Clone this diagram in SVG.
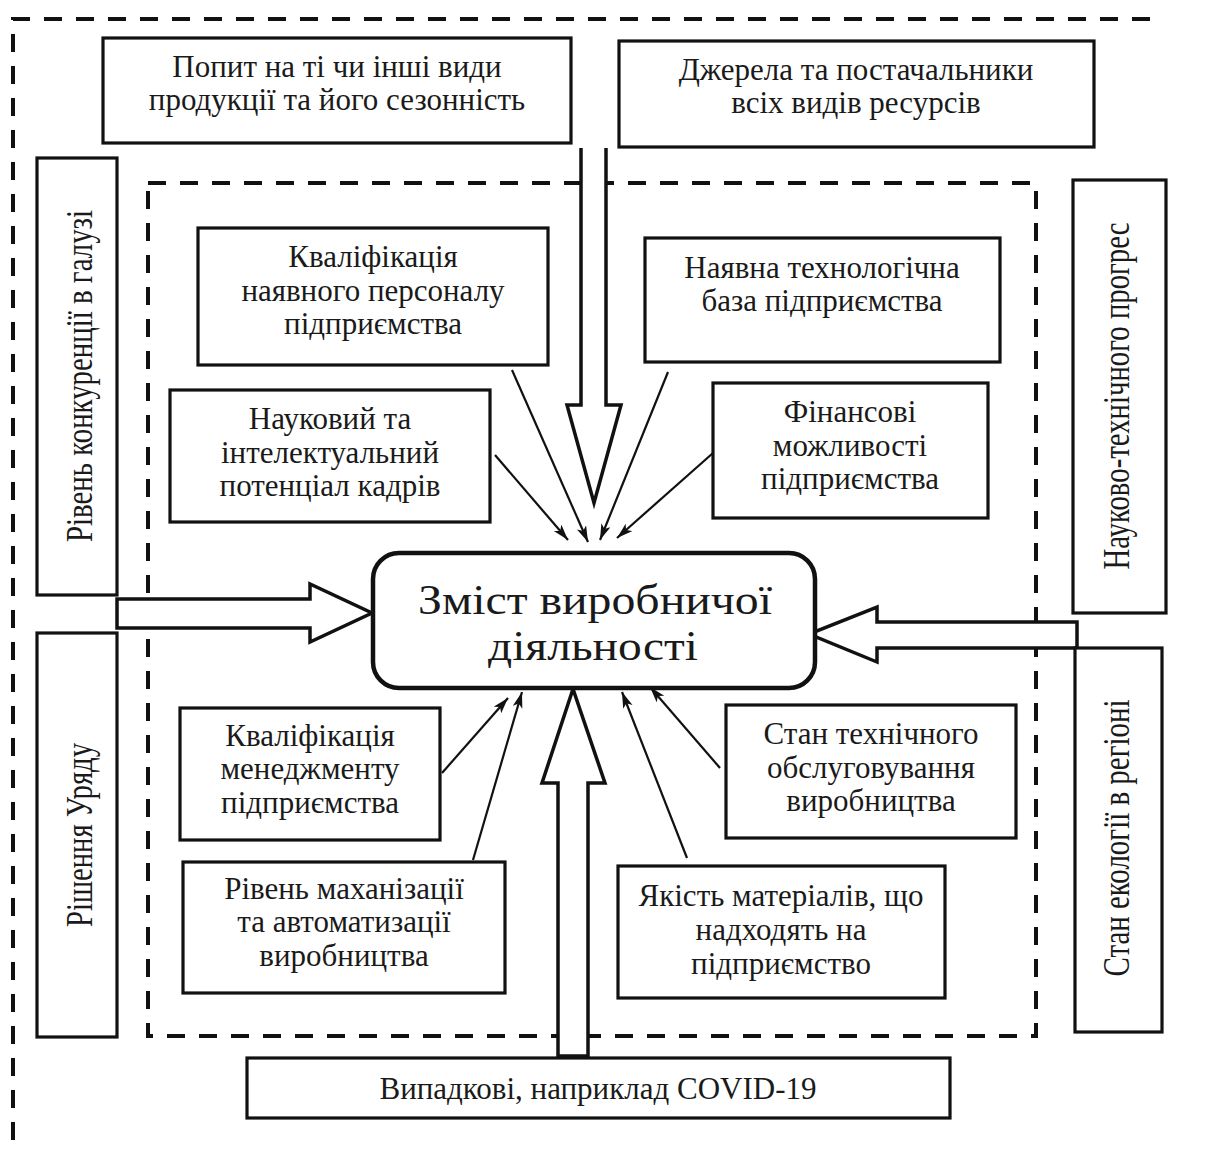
<svg xmlns="http://www.w3.org/2000/svg" width="1205" height="1154" viewBox="0 0 1205 1154">
<defs>
<style>
.box{fill:#fff;stroke:#111;stroke-width:3.2}
.dash{fill:none;stroke:#111;stroke-width:4;stroke-dasharray:18 14}
.big{fill:#fff;stroke:#111;stroke-width:3.5;stroke-linejoin:miter}
.thin{fill:none;stroke:#111;stroke-width:2.2}
text{font-family:"Liberation Serif","Times New Roman",serif;fill:#1a1a1a;text-anchor:middle}
.t{font-size:31px}
.c{font-size:42px}
.v{font-size:37px}
</style>
<marker id="ah" markerUnits="userSpaceOnUse" markerWidth="18" markerHeight="12" refX="16" refY="5" orient="auto">
<path d="M0,0 L16,5 L0,10 L4,5 z" fill="#111"/>
</marker>
</defs>
<rect width="1205" height="1154" fill="#fff"/>

<g id="frames">
<path class="dash" d="M13,1140 V19 H1162"/>
<rect class="dash" x="148" y="183" width="888" height="853"/>
</g>

<g id="connectors">
<path class="big" d="M581,148 V405 H567 L594,503 L621,405 H606 V148"/>
<path class="big" d="M558,1056 V783 H542 L573,689 L605,783 H588 V1056 Z"/>
<path class="big" d="M117,599 H310 V584 L372,613 L310,642 V628 H117 Z"/>
<path class="big" d="M1077,622 H877 V607 L809,634 L877,662 V648 H1077 Z"/>
<line class="thin" x1="495" y1="455" x2="568" y2="540" marker-end="url(#ah)"/>
<line class="thin" x1="512" y1="370" x2="588" y2="542" marker-end="url(#ah)"/>
<line class="thin" x1="668" y1="372" x2="600" y2="540" marker-end="url(#ah)"/>
<line class="thin" x1="713" y1="453" x2="617" y2="538" marker-end="url(#ah)"/>
<line class="thin" x1="442" y1="773" x2="508" y2="698" marker-end="url(#ah)"/>
<line class="thin" x1="473" y1="860" x2="522" y2="692" marker-end="url(#ah)"/>
<line class="thin" x1="687" y1="858" x2="622" y2="692" marker-end="url(#ah)"/>
<line class="thin" x1="720" y1="768" x2="650" y2="687" marker-end="url(#ah)"/>
</g>

<g id="n-popyt">
<rect class="box" x="103" y="38" width="468" height="105"/>
<text class="t" x="337" y="77">Попит на ті чи інші види</text>
<text class="t" x="337" y="110">продукції та його сезонність</text>
</g>
<g id="n-dzherela">
<rect class="box" x="619" y="41" width="475" height="106"/>
<text class="t" x="856" y="80">Джерела та постачальники</text>
<text class="t" x="856" y="113">всіх видів ресурсів</text>
</g>
<g id="n-konkurentsia">
<rect class="box" x="37" y="158" width="80" height="437"/>
<text class="v" transform="translate(92,376) rotate(-90)" textLength="332" lengthAdjust="spacingAndGlyphs">Рівень конкуренції в галузі</text>
</g>
<g id="n-uriad">
<rect class="box" x="37" y="633" width="80" height="404"/>
<text class="v" transform="translate(92,835) rotate(-90)" textLength="184" lengthAdjust="spacingAndGlyphs">Рішення Уряду</text>
</g>
<g id="n-ntp">
<rect class="box" x="1073" y="180" width="93" height="433"/>
<text class="v" transform="translate(1129,396) rotate(-90)" textLength="347" lengthAdjust="spacingAndGlyphs">Науково-технічного прогрес</text>
</g>
<g id="n-ekolohia">
<rect class="box" x="1075" y="648" width="87" height="384"/>
<text class="v" transform="translate(1129,838) rotate(-90)" textLength="277" lengthAdjust="spacingAndGlyphs">Стан екології в регіоні</text>
</g>
<g id="n-personal">
<rect class="box" x="198" y="228" width="350" height="137"/>
<text class="t" x="373" y="267">Кваліфікація</text>
<text class="t" x="373" y="301">наявного персоналу</text>
<text class="t" x="373" y="334">підприємства</text>
</g>
<g id="n-tekhnolohia">
<rect class="box" x="645" y="238" width="355" height="124"/>
<text class="t" x="822" y="278">Наявна технологічна</text>
<text class="t" x="822" y="311">база підприємства</text>
</g>
<g id="n-naukovyi">
<rect class="box" x="170" y="390" width="320" height="132"/>
<text class="t" x="330" y="429">Науковий та</text>
<text class="t" x="330" y="463">інтелектуальний</text>
<text class="t" x="330" y="496">потенціал кадрів</text>
</g>
<g id="n-finansovi">
<rect class="box" x="713" y="383" width="275" height="135"/>
<text class="t" x="850" y="422">Фінансові</text>
<text class="t" x="850" y="456">можливості</text>
<text class="t" x="850" y="489">підприємства</text>
</g>
<g id="n-center">
<rect x="373" y="553" width="442" height="135" rx="26" fill="#fff" stroke="#111" stroke-width="4.5"/>
<text class="c" x="595" y="614" textLength="354" lengthAdjust="spacingAndGlyphs">Зміст виробничої</text>
<text class="c" x="593" y="660" textLength="210" lengthAdjust="spacingAndGlyphs">діяльності</text>
</g>
<g id="n-menedzhment">
<rect class="box" x="180" y="708" width="260" height="132"/>
<text class="t" x="310" y="746">Кваліфікація</text>
<text class="t" x="310" y="779">менеджменту</text>
<text class="t" x="310" y="813">підприємства</text>
</g>
<g id="n-obsluhovuvannia">
<rect class="box" x="726" y="705" width="290" height="133"/>
<text class="t" x="871" y="744">Стан технічного</text>
<text class="t" x="871" y="778">обслуговування</text>
<text class="t" x="871" y="811">виробництва</text>
</g>
<g id="n-mekhanizatsia">
<rect class="box" x="183" y="862" width="322" height="131"/>
<text class="t" x="344" y="899">Рівень маханізації</text>
<text class="t" x="344" y="932">та автоматизації</text>
<text class="t" x="344" y="966">виробництва</text>
</g>
<g id="n-materialy">
<rect class="box" x="618" y="866" width="327" height="132"/>
<text class="t" x="781" y="906">Якість матеріалів, що</text>
<text class="t" x="781" y="940">надходять на</text>
<text class="t" x="781" y="974">підприємство</text>
</g>
<g id="n-vypadkovi">
<rect class="box" x="247" y="1058" width="703" height="60"/>
<text class="t" x="598" y="1099">Випадкові, наприклад COVID-19</text>
</g>
</svg>
